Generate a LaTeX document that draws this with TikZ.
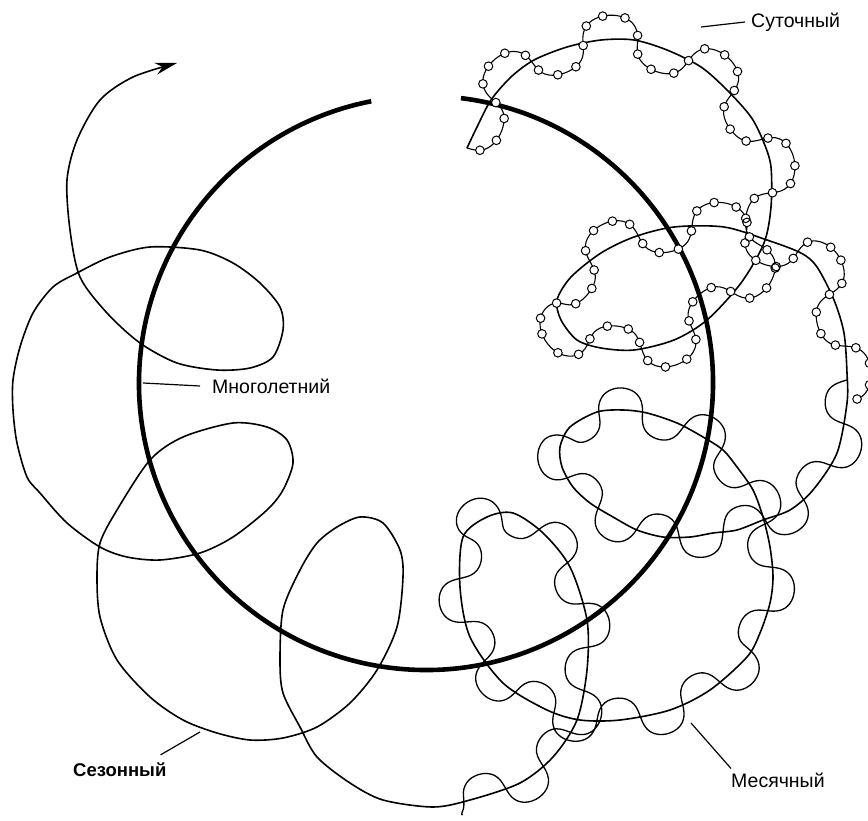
\documentclass[tikz,border=0pt]{standalone}
\usepackage{fontspec}
\setmainfont{Liberation Sans}
\usetikzlibrary{arrows.meta}

% ---------- point storage ----------
\newcount\npts
\def\setpts#1{%
  \global\npts=0\relax
  \foreach \xx/\yy in {#1}{%
    \global\advance\npts by 1\relax
    \expandafter\xdef\csname wpX\the\npts\endcsname{\xx}%
    \expandafter\xdef\csname wpY\the\npts\endcsname{\yy}%
  }%
}
\def\gpx#1{\csname wpX#1\endcsname}
\def\gpy#1{\csname wpY#1\endcsname}

% ---------- one sample of the wave on the Catmull-Rom spline ----------
\def\wavesample{%
  \pgfmathsetmacro\cX{\Pbx+0.5*\tq*(\cbx+\tq*(\ccx+\tq*\cdx))}%
  \pgfmathsetmacro\cY{\Pby+0.5*\tq*(\cby+\tq*(\ccy+\tq*\cdy))}%
  \pgfmathsetmacro\dXv{0.5*(\cbx+\tq*(2*\ccx+3*\tq*\cdx))}%
  \pgfmathsetmacro\dYv{0.5*(\cby+\tq*(2*\ccy+3*\tq*\cdy))}%
  \pgfmathsetmacro\dLen{max(veclen(\dXv,\dYv),0.0001)}%
  \pgfmathsetmacro\tX{\dXv/\dLen}%
  \pgfmathsetmacro\tY{\dYv/\dLen}%
  \ifnum\wfirst=1\relax
  \else
    \pgfmathsetmacro\sacc{\sacc+veclen(\cX-\lastX,\cY-\lastY)}%
    \global\let\sacc\sacc
  \fi
  \pgfmathsetmacro\wph{360*(\sacc/\wL)}%
  \pgfmathsetmacro\wu{\wA*sin(\wph)}%
  \pgfmathsetmacro\wv{-\wB*sin(2*\wph)}%
  \pgfmathsetmacro\WX{\cX+\wv*\tX-\wu*\tY}%
  \pgfmathsetmacro\WY{\cY+\wv*\tY+\wu*\tX}%
  \ifnum\wfirst=1\relax
    \xdef\wpath{(\WX,\WY)}%
  \else
    \xdef\wpath{\wpath\space(\WX,\WY)}%
    \ifdim\wS pt>0pt\relax
      \pgfmathsetmacro\wacc{\wacc+veclen(\WX-\lastWX,\WY-\lastWY)}%
      \global\let\wacc\wacc
      \ifdim\wacc pt>\nbead pt\relax
        \xdef\wbeads{\wbeads\space(\WX,\WY) circle[radius=4.3pt]}%
        \pgfmathsetmacro\nbead{\nbead+\wS}%
        \global\let\nbead\nbead
      \fi
    \fi
  \fi
  \global\let\lastX\cX \global\let\lastY\cY
  \global\let\lastWX\WX \global\let\lastWY\WY
  \gdef\wfirst{0}%
}

% #1 wavelength, #2 amplitude, #3 backward swing, #4 bead spacing (0 = none)
\def\makewave#1#2#3#4{%
  \gdef\wL{#1}\gdef\wA{#2}\gdef\wB{#3}\gdef\wS{#4}%
  \gdef\wpath{}\gdef\wbeads{}%
  \gdef\sacc{0}\gdef\wacc{0}%
  \pgfmathsetmacro\nbead{#4/2}\global\let\nbead\nbead
  \gdef\wfirst{1}%
  \pgfmathtruncatemacro\nseg{\npts-1}%
  \foreach \si in {1,...,\nseg}{%
    \pgfmathtruncatemacro\ia{max(\si-1,1)}%
    \pgfmathtruncatemacro\ib{\si+1}%
    \pgfmathtruncatemacro\ic{min(\si+2,\npts)}%
    \edef\Pbx{\gpx{\si}}\edef\Pby{\gpy{\si}}%
    \pgfmathsetmacro\qax{\gpx{\ia}-\Pbx}\pgfmathsetmacro\qay{\gpy{\ia}-\Pby}%
    \pgfmathsetmacro\qcx{\gpx{\ib}-\Pbx}\pgfmathsetmacro\qcy{\gpy{\ib}-\Pby}%
    \pgfmathsetmacro\qdx{\gpx{\ic}-\Pbx}\pgfmathsetmacro\qdy{\gpy{\ic}-\Pby}%
    \pgfmathsetmacro\cbx{\qcx-\qax}\pgfmathsetmacro\cby{\qcy-\qay}%
    \pgfmathsetmacro\ccx{2*\qax+4*\qcx-\qdx}\pgfmathsetmacro\ccy{2*\qay+4*\qcy-\qdy}%
    \pgfmathsetmacro\cdx{-\qax-3*\qcx+\qdx}\pgfmathsetmacro\cdy{-\qay-3*\qcy+\qdy}%
    \pgfmathtruncatemacro\msub{max(3,ceil(veclen(\qcx,\qcy)/3))}%
    \foreach \sj in {0,...,\msub}{%
      \pgfmathsetmacro\tq{\sj/\msub}%
      \ifnum\sj>0\relax\wavesample\else\ifnum\si=1\relax\wavesample\fi\fi
    }%
  }%
}

% monthly wave
\setpts{847/380, 847/403, 837/453, 813/490, 790/510, 763/520, 737/530, 713/533, 690/537, 663/537, 637/530, 613/517, 590/503, 573/487, 562/467, 560/447, 570/427, 597/412, 623/410, 647/413, 677/423, 703/437, 723/450, 737/467, 753/490, 763/517, 770/547, 773/577, 770/603, 760/633, 747/657, 710/690, 670/710, 620/720, 580/720, 547/710, 503/683, 470/637, 460/587, 463/537, 487/517, 513/513, 543/533, 570/567, 587/620, 587/670, 577/720, 553/757, 520/783, 470/800, 455/803}
\makewave{88}{22}{5}{0}
\global\let\mwave\wpath

% daily wave with beads
\setpts{467/148, 477/127, 491/100, 511/77, 534/60, 567/47, 601/40, 634/40, 667/50, 701/67, 727/90, 751/117, 764/143, 771/167, 771/207, 764/243, 741/283, 707/320, 674/340, 634/350, 601/348, 577/340, 561/320, 557/300, 571/277, 601/253, 634/237, 674/227, 724/227, 767/240, 801/253, 817/267, 834/300, 844/333, 847/373, 847/395}
\makewave{110}{24}{7}{21}
\global\let\dwave\wpath
\global\let\dbeads\wbeads

\tikzset{
  multiyear/.style={line width=4.6pt},
  seasonal/.style={line width=1.6pt, line join=round},
  monthly/.style={line width=1.3pt, line join=round, line cap=round},
  daily/.style={line width=1.1pt, line join=round, line cap=round},
  bead/.style={line width=1pt, fill=white},
  lbl/.style={font=\fontsize{19.5}{21}\selectfont, inner sep=0pt, anchor=west},
  leader/.style={line width=1.2pt}
}

\begin{document}
\begin{tikzpicture}[x=1pt,y=-1pt]
\useasboundingbox (0,0) rectangle (868,821);

% multi-year (thick open circle)
\coordinate (C0) at (426,383);
\draw[multiyear] (C0) ++(-83:287) arc[start angle=-83, end angle=259, radius=287];

% seasonal curve
\draw[seasonal, -{Stealth[length=22pt,width=12pt]}] plot[smooth] coordinates {
(467,148) (477,127) (491,100) (511,77) (534,60) (567,47) (601,40) (634,40) (667,50) (701,67) (727,90) (751,117) (764,143) (771,167) (771,207) (764,243) (741,283) (707,320) (674,340) (634,350) (601,348) (577,340) (561,320) (557,300) (571,277) (601,253) (634,237) (674,227) (724,227) (767,240) (801,253) (817,267) (834,300) (844,333) (847,373) (847,403) (837,453) (813,490) (790,510) (763,520) (737,530) (713,533) (690,537) (663,537) (637,530) (613,517) (590,503) (573,487) (562,467) (560,447) (570,427) (597,412) (623,410) (647,413) (677,423) (703,437) (723,450) (737,467) (753,490) (763,517) (770,547) (773,577) (770,603) (760,633) (747,657) (710,690) (670,710) (620,720) (580,720) (547,710) (503,683) (470,637) (460,587) (463,537) (487,517) (513,513) (543,533) (570,567) (587,620) (587,670) (577,720) (553,757) (520,783) (470,800) (433,807) (383,800) (350,783) (317,757) (300,727) (283,693) (280,660) (283,610) (300,570) (317,543) (337,527) (360,517) (383,523) (400,550) (403,577) (397,627) (377,670) (350,703) (317,727) (283,738) (250,740) (217,733) (183,720) (150,697) (117,660) (100,617) (97,577) (100,543) (117,510) (150,460) (183,437) (233,423) (267,427) (287,440) (293,463) (283,490) (267,510) (233,537) (200,553) (160,560) (127,557) (100,547) (67,523) (40,493) (27,477) (17,443) (13,410) (13,380) (20,347) (33,313) (53,287) (77,273) (110,257) (150,247) (200,250) (233,263) (260,283) (280,307) (283,330) (273,357) (250,368) (217,370) (177,363) (140,343) (107,313) (80,277) (70,230) (67,180) (77,140) (100,100) (133,77) (177,63)};

% monthly and daily waves
\edef\tmpdraw{\noexpand\draw[monthly] plot[smooth] coordinates {\mwave};}\tmpdraw
\edef\tmpdraw{\noexpand\draw[daily] plot[smooth] coordinates {\dwave};}\tmpdraw
\edef\tmpdraw{\noexpand\draw[bead] \dbeads;}\tmpdraw

% labels
\node[lbl] (mnog) at (212,386) {Многолетний};
\node[lbl, font=\fontsize{18.5}{20}\selectfont\bfseries] (sez) at (73,770) {Сезонный};
\node[lbl] (sut) at (751,22) {Суточный};
\node[lbl] (mes) at (731,780) {Месячный};

\coordinate (mnogP) at (143,383);
\coordinate (sezP) at (200,732);
\coordinate (sutP) at (701,27);
\coordinate (mesP) at (691,723);

\draw[leader] (mnogP) -- ([xshift=-12pt]mnog.west);
\draw[leader] (sezP) -- ([shift={(-6,-8)}]sez.north east);
\draw[leader] (sutP) -- ([xshift=-6pt]sut.west);
\draw[leader] (mesP) -- ([shift={(0,-4)}]mes.north west);
\end{tikzpicture}
\end{document}
